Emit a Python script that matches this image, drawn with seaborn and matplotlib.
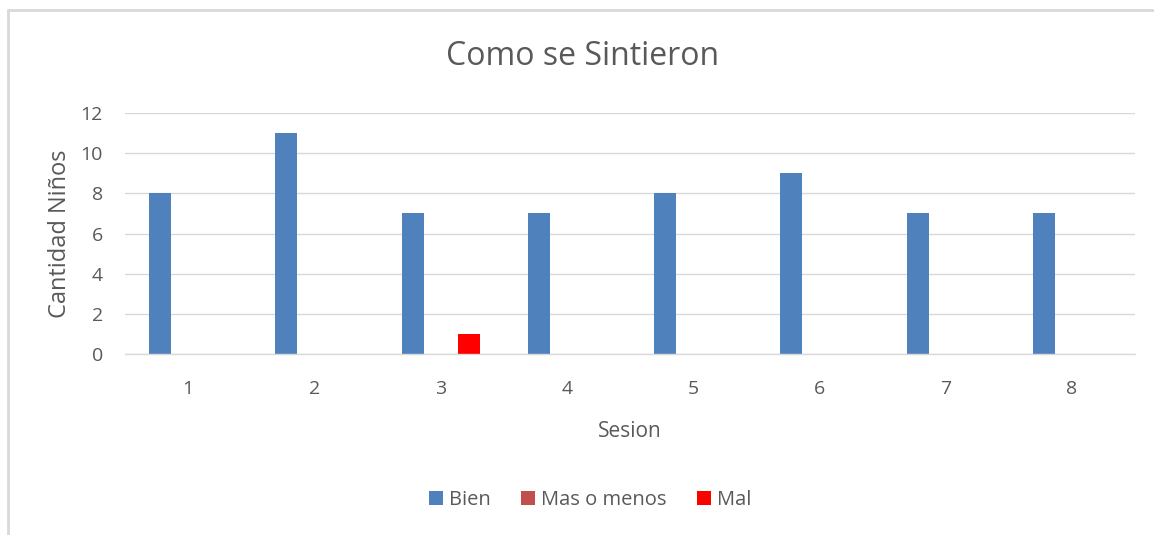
import matplotlib
matplotlib.use("Agg")
import matplotlib.pyplot as plt
import seaborn as sns
import pandas as pd
from matplotlib.lines import Line2D
from matplotlib.patches import Patch

sessions = ["1", "2", "3", "4", "5", "6", "7", "8"]
bien = [8, 11, 7, 7, 8, 9, 7, 7]
mas_o_menos = [0, 0, 0, 0, 0, 0, 0, 0]
mal = [0, 0, 1, 0, 0, 0, 0, 0]
series_names = ["Bien", "Mas o menos", "Mal"]
colors = ["#4F81BD", "#C0504D", "#FF0000"]
yticks = [0, 2, 4, 6, 8, 10, 12]

df = pd.DataFrame({
    "Sesion": sessions * 3,
    "Serie": [series_names[0]] * 8 + [series_names[1]] * 8 + [series_names[2]] * 8,
    "Valor": bien + mas_o_menos + mal,
})

sns.set_style("white")
plt.rcParams["font.family"] = ["Open Sans", "DejaVu Sans"]
txt = "#595959"

fig = plt.figure(figsize=(11.54, 5.35), dpi=100)
ax = fig.add_axes([125 / 1154, 1 - 354 / 535, 1010 / 1154, 241 / 535])

sns.barplot(data=df, x="Sesion", y="Valor", hue="Serie", hue_order=series_names,
            palette=colors, width=0.666, gap=0.22, ax=ax, legend=False,
            saturation=1, linewidth=0, errorbar=None)

ax.set_xlim(-0.5, 7.5)
ax.set_ylim(0, 12)
ax.set_yticks(yticks)
ax.yaxis.grid(True, color="#D9D9D9", linewidth=1)
ax.set_axisbelow(True)
for s in ["top", "right", "left"]:
    ax.spines[s].set_visible(False)
ax.spines["bottom"].set_color("#D9D9D9")
ax.spines["bottom"].set_linewidth(1)
ax.tick_params(axis="both", length=0, labelsize=14, colors=txt)
ax.tick_params(axis="x", pad=19)
ax.tick_params(axis="y", pad=16)
ax.set_xlabel("Sesion", fontsize=15, color=txt, labelpad=16)
ax.set_ylabel("Cantidad Niños", fontsize=17, color=txt, labelpad=6)

fig.text(583 / 1154, 1 - 57 / 535, "Como se Sintieron", ha="center", va="center",
         fontsize=23, color=txt)

handles = [Patch(facecolor=c, edgecolor="none") for c in colors]
fig.legend(handles, series_names, loc="center", bbox_to_anchor=(590 / 1154, 1 - 500 / 535),
           ncol=3, frameon=False, fontsize=14.5, labelcolor=txt, handlelength=0.7,
           handleheight=0.7, handletextpad=0.3, columnspacing=1.5)

# chart frame
fig.add_artist(Line2D([7.5 / 1154, 7.5 / 1154], [0, 1 - 10 / 535], transform=fig.transFigure,
                      color="#D9D9D9", linewidth=2))
fig.add_artist(Line2D([7.5 / 1154, 1], [1 - 10 / 535, 1 - 10 / 535], transform=fig.transFigure,
                      color="#D9D9D9", linewidth=2))

fig.savefig("out.png", dpi=100, facecolor="white")
